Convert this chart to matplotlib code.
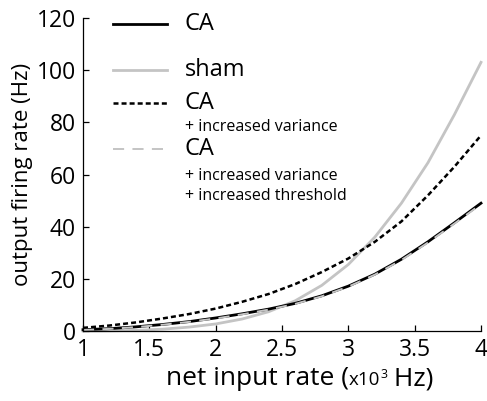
import matplotlib
matplotlib.use("Agg")
import matplotlib.pyplot as plt

plt.rcParams['font.family'] = ['Open Sans', 'DejaVu Sans']
plt.rcParams['lines.scale_dashes'] = False

# net input rate (x10^3 Hz)
rate_in = [1.0, 1.2, 1.4, 1.6, 1.8, 2.0, 2.2, 2.4, 2.6, 2.8, 3.0, 3.2, 3.4, 3.6, 3.8, 4.0]

ca = [0.5, 0.9, 1.6, 2.5, 3.6, 5.0, 6.6, 8.4, 10.6, 13.5, 17.2, 21.8, 27.5, 34.2, 41.5, 49.0]
sham = [0.0, 0.05, 0.25, 0.7, 1.5, 2.7, 4.6, 7.4, 11.6, 17.5, 25.5, 36.0, 49.0, 64.5, 83.0, 103.0]
ca_var = [1.2, 2.1, 3.3, 4.8, 6.5, 8.6, 11.2, 14.2, 18.0, 22.6, 27.8, 34.2, 42.0, 52.0, 63.0, 75.0]
ca_var_thr = [0.4, 0.8, 1.5, 2.4, 3.5, 4.8, 6.4, 8.2, 10.4, 13.3, 17.0, 21.6, 27.2, 33.9, 41.2, 48.6]

yticks = [0, 20, 40, 60, 80, 100, 120]
xticks = [1, 1.5, 2, 2.5, 3, 3.5, 4]
xtick_labels = ['1', '1.5', '2', '2.5', '3', '3.5', '4']

gray = '#c4c4c4'
styles = {
    'ca': dict(color='black', lw=2.0, ls='-'),
    'sham': dict(color=gray, lw=2.0, ls='-'),
    'ca_var': dict(color='black', lw=1.8, dashes=(3.6, 2.2)),
    'ca_var_thr': dict(color=gray, lw=1.4, dashes=(8, 6)),
}

fig = plt.figure(figsize=(4.87, 4.01), dpi=100)
ax = fig.add_axes([83 / 487, 70 / 401, 398 / 487, 313 / 401])

ax.plot(rate_in, sham, clip_on=False, **styles['sham'])
ax.plot(rate_in, ca_var, clip_on=False, **styles['ca_var'])
ax.plot(rate_in, ca, clip_on=False, **styles['ca'])
ax.plot(rate_in, ca_var_thr, clip_on=False, **styles['ca_var_thr'])

ax.set_xlim(1, 4)
ax.set_ylim(0, 120)
ax.set_xticks(xticks)
ax.set_xticklabels(xtick_labels)
ax.set_yticks(yticks)
for s in ['top', 'right']:
    ax.spines[s].set_visible(False)
for s in ['left', 'bottom']:
    ax.spines[s].set_linewidth(0.9)
ax.tick_params(direction='in', length=4, width=0.9, labelsize=16.5, pad=5)

ax.set_ylabel('output firing rate (Hz)', fontsize=16, labelpad=3)

# hand-made legend
lx0, lx1, tx = 0.075, 0.211, 0.256
entries = [
    ('ca', 0.981, 'CA', []),
    ('sham', 0.835, 'sham', []),
    ('ca_var', 0.728, 'CA', [('+ increased variance', 0.653)]),
    ('ca_var_thr', 0.582, 'CA', [('+ increased variance', 0.496),
                                 ('+ increased threshold', 0.432)]),
]
for key, yy, lab, subs in entries:
    ax.plot([lx0, lx1], [yy, yy], transform=ax.transAxes, clip_on=False,
            **styles[key])
    ax.text(tx, yy, lab, transform=ax.transAxes, fontsize=17, va='center')
    for sub, sy in subs:
        ax.text(tx, sy, sub, transform=ax.transAxes, fontsize=11.5, va='center')

# x label built from pieces: "net input rate (" + small "x10" + superscript "3" + " Hz)"
r = fig.canvas.get_renderer()
W, H = fig.bbox.width, fig.bbox.height
base_y = 16 / 401
pieces = [('net input rate (', 19, 0), ('x10', 13.5, 0), ('3', 9, 7.5), (' Hz)', 19, 0)]
x = 166 / 487
for txt, fs, rise in pieces:
    t = fig.text(x, base_y + rise / H, txt, fontsize=fs, va='baseline', ha='left')
    bb = t.get_window_extent(r)
    x = bb.x1 / W

fig.savefig('out.png', dpi=100)
